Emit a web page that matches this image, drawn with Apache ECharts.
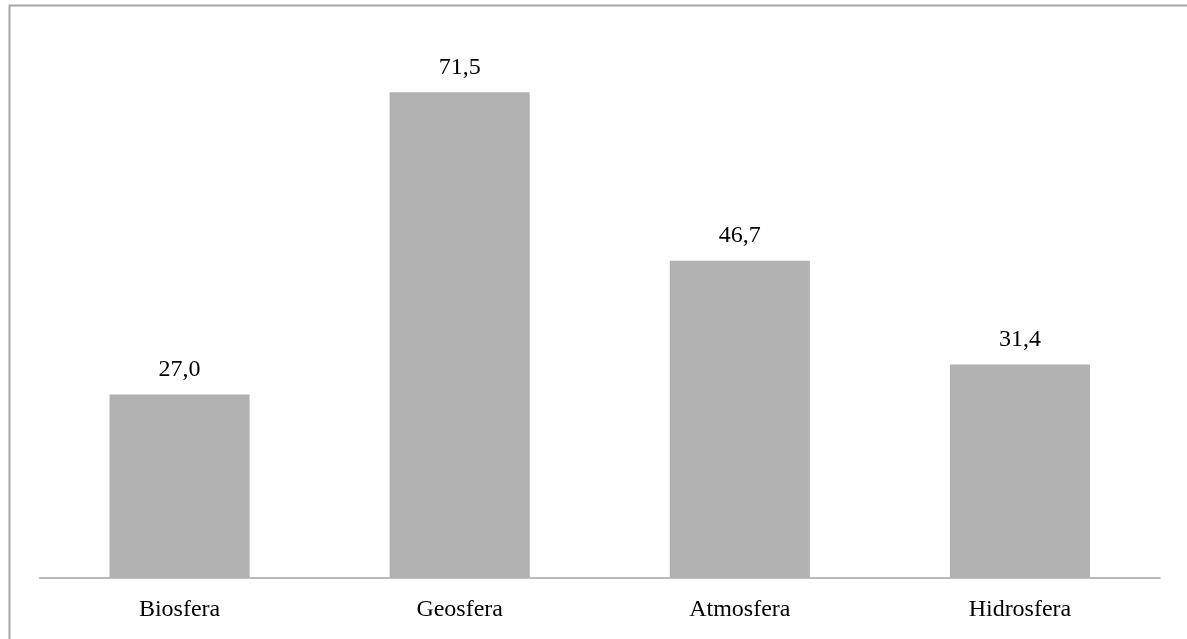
<!DOCTYPE html>
<html>
<head>
<meta charset="utf-8">
<script src="https://cdn.jsdelivr.net/npm/echarts@6/dist/echarts.min.js"></script>
<style>
  html, body { margin: 0; padding: 0; background: #ffffff; overflow: hidden; }
  #chart { width: 1187px; height: 639px; }
</style>
</head>
<body>
<div id="chart"></div>
<script>
// Categories and values for the bar chart
const categories = ['Biosfera', 'Geosfera', 'Atmosfera', 'Hidrosfera'];
const values = [27.0, 71.5, 46.7, 31.4];

const fontFamily = '"Liberation Serif", "Times New Roman", serif';

const chart = echarts.init(document.getElementById('chart'), null, { renderer: 'canvas' });

chart.setOption({
  backgroundColor: '#ffffff',
  animation: false,
  graphic: [{
    // chart-area frame: left and top edges
    type: 'polyline',
    shape: { points: [[9.5, 700], [9.5, 5.5], [1400, 5.5]] },
    style: { fill: null, stroke: '#a6a6a6', lineWidth: 2 },
    silent: true
  }],
  grid: { left: 39.5, right: 27, top: 34.6, bottom: 61.3 },
  xAxis: {
    type: 'category',
    data: categories,
    axisLine: { lineStyle: { color: '#a6a6a6', width: 1.5 } },
    axisTick: { show: false },
    axisLabel: { color: '#000000', fontFamily: fontFamily, fontSize: 24, margin: 20 }
  },
  yAxis: {
    type: 'value',
    min: 0,
    max: 80,
    show: false,
    splitLine: { show: false }
  },
  series: [{
    type: 'bar',
    data: values,
    barWidth: '50%',
    itemStyle: { color: '#b1b1b1' },
    label: {
      show: true,
      position: 'top',
      distance: 13,
      color: '#000000',
      fontFamily: fontFamily,
      fontSize: 24,
      formatter: p => p.value.toFixed(1).replace('.', ',')
    }
  }]
});
</script>
</body>
</html>
